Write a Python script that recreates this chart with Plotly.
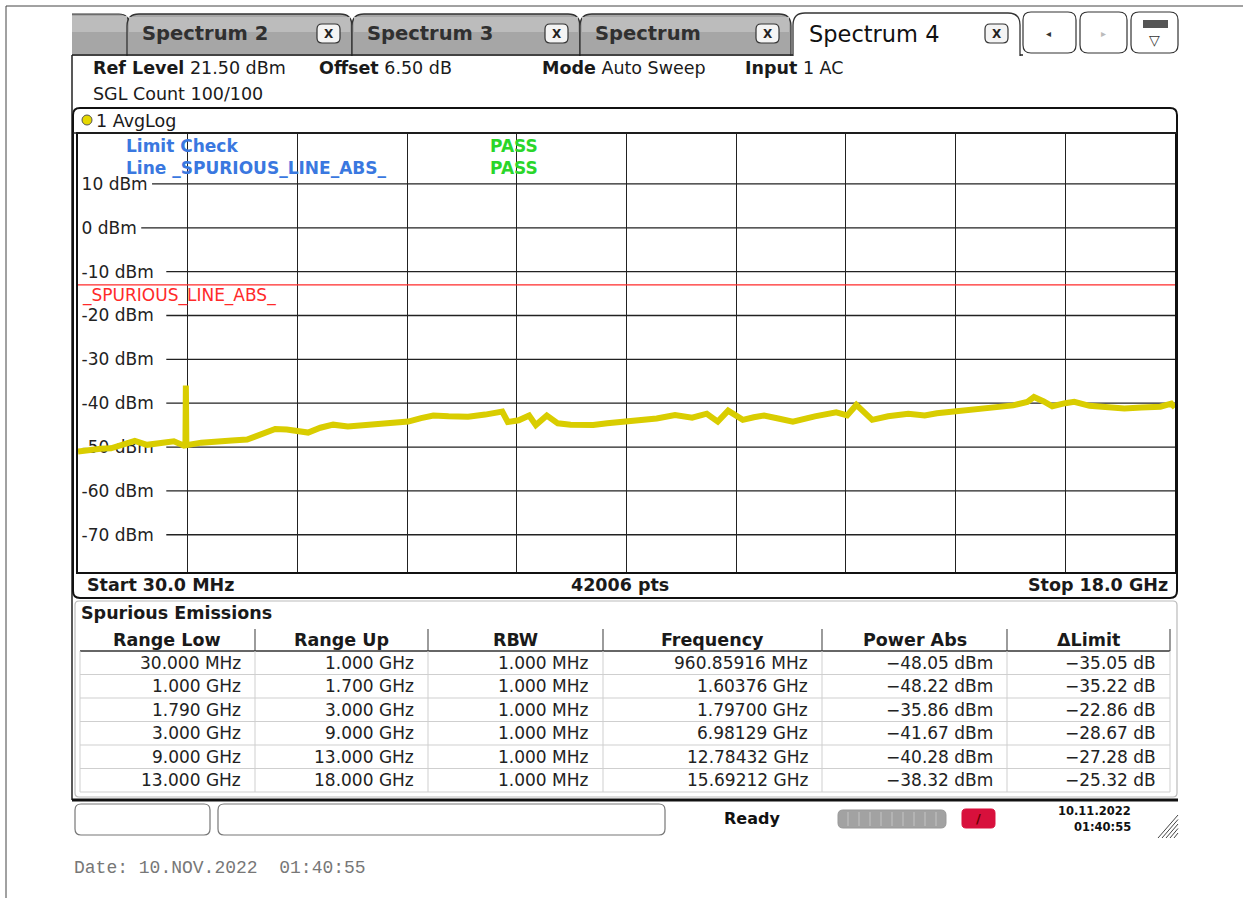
import plotly.graph_objects as go

W, H = 1243, 898
FONT = "DejaVu Sans"

# trace (GHz, dBm)
freq_ghz = [0.03, 0.20, 0.40, 0.57, 0.75, 0.96, 1.16, 1.35, 1.60, 1.75, 1.790, 1.797, 1.805,
            2.05, 2.32, 2.55, 2.80, 3.03, 3.26, 3.45, 3.62, 3.80, 4.00, 4.21, 4.45, 4.67,
            4.95, 5.20, 5.44, 5.65, 5.85, 6.10, 6.42, 6.70, 6.98, 7.07, 7.25, 7.42, 7.53,
            7.71, 7.89, 8.10, 8.47, 8.70, 8.92, 9.20, 9.51, 9.81, 10.09, 10.33, 10.51,
            10.68, 10.92, 11.10, 11.27, 11.50, 11.74, 12.10, 12.45, 12.63, 12.78, 13.04,
            13.30, 13.63, 13.90, 14.10, 14.51, 14.80, 15.10, 15.35, 15.58, 15.69, 15.85,
            15.99, 16.20, 16.35, 16.60, 16.90, 17.17, 17.45, 17.76, 17.94, 18.00]
level_dbm = [-51.0, -50.6, -50.4, -50.3, -49.6, -48.6, -49.5, -49.3, -48.7, -49.6, -49.3, -36.0, -49.6,
             -49.0, -48.6, -48.5, -48.3, -47.0, -45.9, -46.0, -46.4, -46.7, -45.6, -44.9, -45.3, -45.0,
             -44.8, -44.6, -44.2, -43.4, -42.8, -43.0, -43.1, -42.6, -41.9, -44.3, -43.9, -42.8, -45.0,
             -42.8, -44.6, -44.9, -45.0, -44.6, -44.3, -43.9, -43.5, -42.7, -43.3, -42.4, -44.2,
             -41.7, -43.8, -43.2, -42.8, -43.5, -44.2, -43.0, -42.1, -42.8, -40.4, -43.8,
             -43.0, -42.4, -42.8, -42.3, -41.7, -41.4, -40.9, -40.5, -39.7, -38.6, -39.6,
             -40.7, -40.0, -39.7, -40.6, -40.9, -41.2, -41.0, -40.8, -40.1, -41.0]

f_start, f_stop = 0.03, 18.0
ref_level = 21.5
limit_dbm = -13.0
y_ticks = [10, 0, -10, -20, -30, -40, -50, -60, -70]

# spurious emissions table
col_heads = ["Range Low", "Range Up", "RBW", "Frequency", "Power Abs", "ΔLimit"]
range_low = ["30.000 MHz", "1.000 GHz", "1.790 GHz", "3.000 GHz", "9.000 GHz", "13.000 GHz"]
range_up = ["1.000 GHz", "1.700 GHz", "3.000 GHz", "9.000 GHz", "13.000 GHz", "18.000 GHz"]
rbw = ["1.000 MHz"] * 6
frequency = ["960.85916 MHz", "1.60376 GHz", "1.79700 GHz", "6.98129 GHz", "12.78432 GHz", "15.69212 GHz"]
power_abs = ["-48.05 dBm", "-48.22 dBm", "-35.86 dBm", "-41.67 dBm", "-40.28 dBm", "-38.32 dBm"]
delta_limit = ["-35.05 dB", "-35.22 dB", "-22.86 dB", "-28.67 dB", "-27.28 dB", "-25.32 dB"]

tab_names = ["Spectrum 2", "Spectrum 3", "Spectrum", "Spectrum 4"]


def X(p):
    return p / W


def Y(p):
    return 1 - p / H


shapes = []
ann = []


def line(x0, y0, x1, y1, color="#222", width=1, layer="above"):
    shapes.append(dict(type="line", xref="paper", yref="paper", x0=X(x0), y0=Y(y0), x1=X(x1), y1=Y(y1),
                       line=dict(color=color, width=width), layer=layer))


def rect(x0, y0, x1, y1, fill, color="rgba(0,0,0,0)", width=0, layer="above"):
    shapes.append(dict(type="rect", xref="paper", yref="paper", x0=X(x0), y0=Y(y0), x1=X(x1), y1=Y(y1),
                       fillcolor=fill, line=dict(color=color, width=width), layer=layer))


def rbox(x0, y0, x1, y1, r, fill, color, width=1, top_only=False, layer="above"):
    p = lambda x, y: f"{X(x):.5f},{Y(y):.5f}"
    if top_only:
        d = (f"M {p(x0, y1)} L {p(x0, y0 + r)} Q {p(x0, y0)} {p(x0 + r, y0)} L {p(x1 - r, y0)} "
             f"Q {p(x1, y0)} {p(x1, y0 + r)} L {p(x1, y1)}")
    else:
        d = (f"M {p(x0 + r, y0)} L {p(x1 - r, y0)} Q {p(x1, y0)} {p(x1, y0 + r)} L {p(x1, y1 - r)} "
             f"Q {p(x1, y1)} {p(x1 - r, y1)} L {p(x0 + r, y1)} Q {p(x0, y1)} {p(x0, y1 - r)} "
             f"L {p(x0, y0 + r)} Q {p(x0, y0)} {p(x0 + r, y0)} Z")
    shapes.append(dict(type="path", xref="paper", yref="paper", path=d, fillcolor=fill,
                       line=dict(color=color, width=width), layer=layer))


def text(x, y, s, size=17.5, color="#1a1a1a", anchor="left", family=FONT, valign="middle"):
    ann.append(dict(x=X(x), y=Y(y), xref="paper", yref="paper", text=s, showarrow=False,
                    xanchor=anchor, yanchor=valign, font=dict(family=family, size=size, color=color)))


# page frame
line(6, 6, W, 6, "#444", 1)
line(6, 6, 6, H, "#444", 1)

# tab strip
tab_x = [(127, 352), (352, 580), (580, 791), (793, 1020)]
rbox(40, 14, 129, 56, 10, "#a6a6a6", "#333", 1.2, top_only=True)
rect(42, 16, 127, 32, "#bcbcbc")
rect(8, 10, 72, 60, "#ffffff")
for i, (name, (a, b)) in enumerate(zip(tab_names, tab_x)):
    active = i == len(tab_names) - 1
    rbox(a, 13 if active else 14, b, 56, 12, "#ffffff" if active else "#a6a6a6", "#333", 1.3, top_only=True)
    if not active:
        rect(a + 2, 17, b - 2, 32, "#bcbcbc")
        text(a + 13, 34, f"<b>{name}</b>", 19.5, "#303030")
    else:
        text(a + 14, 34, name, 22.5, "#111")
    rbox(b - 35, 24, b - 12, 43, 5, "#f4f4f4", "#333", 1.2)
    text(b - 23.5, 34, "<b>X</b>", 12, "#222", anchor="center")
for a, b in [(1023, 1076), (1080, 1127), (1131, 1178)]:
    rbox(a, 12, b, 53, 8, "#ffffff", "#333", 1.2)
text(1048, 34, "◂", 10, "#333", anchor="center")
text(1103, 34, "▸", 10, "#bbb", anchor="center")
rect(1143, 20, 1168, 28, "#555")
text(1154, 40, "▽", 14, "#333", anchor="center")
line(72, 55, 793, 55, "#222", 1.5)
line(1020, 55, 1023, 55, "#222", 1.5)
line(72, 55, 72, 800, "#222", 1.5)

# header
text(91, 68, "<b>Ref Level</b> 21.50 dBm")
text(317, 68, "<b>Offset</b> 6.50 dB")
text(540, 68, "<b>Mode</b> Auto Sweep")
text(743, 68, "<b>Input</b> 1 AC")
text(91, 94, "SGL Count 100/100")

# diagram frame
rbox(73, 108, 1177, 598, 7, "rgba(0,0,0,0)", "#111", 2)
line(73, 133, 1177, 133, "#222", 1.5)
shapes.append(dict(type="circle", xref="paper", yref="paper", x0=X(82), y0=Y(125), x1=X(92), y1=Y(115),
                   fillcolor="#e6d800", line=dict(color="#555", width=1)))
text(94, 121, "1 AvgLog")
text(85, 585, "<b>Start 30.0 MHz</b>")
text(620, 585, "<b>42006 pts</b>", anchor="center")
text(1170, 585, "<b>Stop 18.0 GHz</b>", anchor="right")

fig = go.Figure()

# horizontal grid lines start just after their labels
EM = {"-": 0.838, " ": 0.318, "d": 0.635, "B": 0.686, "m": 0.974}
tick_text = [f"{v} dBm" for v in y_ticks]
for v, t in zip(y_ticks, tick_text):
    x_px = 83 + sum(EM.get(ch, 0.636) for ch in t) * 17 + 3
    shapes.append(dict(type="line", xref="x", yref="y", x0=f_start + (x_px - 78) / 1097 * (f_stop - f_start),
                       x1=f_stop, y0=v, y1=v, line=dict(color="#222", width=1.3), layer="below"))

fig.add_trace(go.Scatter(x=[f_start, f_stop], y=[limit_dbm, limit_dbm], mode="lines",
                         line=dict(color="#ff2a2a", width=1.2), hoverinfo="skip"))
fig.add_trace(go.Scatter(x=freq_ghz, y=level_dbm, mode="lines",
                         line=dict(color="#d9cd00", width=6), hoverinfo="skip"))

text(124, 146, "<b>Limit Check</b>", 17, "#3a78e0")
text(124, 168, "<b>Line _SPURIOUS_LINE_ABS_</b>", 17, "#3a78e0")
text(488, 146, "<b>PASS</b>", 17, "#2ad62a")
text(488, 168, "<b>PASS</b>", 17, "#2ad62a")
text(80, 296, "_SPURIOUS_LINE_ABS_", 17, "#ff2a2a")

# table section
rbox(75, 601, 1177, 797, 4, "rgba(0,0,0,0)", "#bbbbbb", 1.2)
text(79, 613, "<b>Spurious Emissions</b>")
cols = [80, 255, 428, 603, 822, 1007, 1170]
head_top, head_bot, row_h = 629, 651, 23.5
for i, h in enumerate(col_heads):
    text((cols[i] + cols[i + 1]) / 2, 640, f"<b>{h}</b>", anchor="center")
    if i > 0:
        line(cols[i], head_top, cols[i], head_bot, "#666", 1.3)
line(1170, head_top, 1170, head_bot, "#666", 1.3)
line(80, head_bot, 1170, head_bot, "#333", 1.5)
columns = [range_low, range_up, rbw, frequency, power_abs, delta_limit]
n_rows = len(range_low)
for r in range(n_rows):
    yc = head_bot + row_h * (r + 0.5)
    if r > 0:
        line(80, head_bot + row_h * r, 1170, head_bot + row_h * r, "#cfcfcf", 1)
    for c, col in enumerate(columns):
        text(cols[c + 1] - 12, yc, col[r].replace("-", "−"), 17, "#222", anchor="right")
for c in cols:
    line(c, head_bot, c, head_bot + row_h * n_rows, "#cfcfcf", 1)
line(80, head_bot + row_h * n_rows, 1170, head_bot + row_h * n_rows, "#cfcfcf", 1)

# status bar
line(72, 800, 1178, 800, "#111", 3)
rbox(75, 804, 210, 835, 6, "#ffffff", "#777", 1.2)
rbox(218, 804, 665, 835, 6, "#ffffff", "#777", 1.2)
text(752, 818, "<b>Ready</b>", 16, "#111", anchor="center")
rbox(838, 810, 946, 828, 5, "#a2a2a2", "#999", 1)
for k in range(9):
    line(848 + k * 11, 812, 848 + k * 11, 826, "#c4c4c4", 1)
rbox(962, 809, 995, 828, 4, "#d8103c", "#d8103c", 1)
text(978, 818, "<b>/</b>", 13, "#600", anchor="center")
text(1133, 811, "<b>10.11.2022</b>", 11.5, "#111", anchor="right")
text(1133, 827, "<b>01:40:55</b>", 11.5, "#111", anchor="right")
for k in range(5):
    line(1158 + k * 4, 838, 1178, 815 + k * 4.5, "#444", 1)

text(72, 868, "Date: 10.NOV.2022  01:40:55", 18, "#777", family="Liberation Mono")

fig.update_layout(
    width=W, height=H, autosize=False,
    margin=dict(l=0, r=0, t=0, b=0),
    paper_bgcolor="#ffffff", plot_bgcolor="#ffffff",
    showlegend=False,
    shapes=shapes, annotations=ann,
    xaxis=dict(domain=[X(78), X(1175)], range=[f_start, f_stop], tick0=f_start,
               dtick=(f_stop - f_start) / 10, showgrid=True, gridcolor="#222", gridwidth=1.3,
               showticklabels=False, ticks="", zeroline=False, showline=True, mirror=True,
               linecolor="#111", linewidth=2, fixedrange=True),
    yaxis=dict(domain=[Y(572), Y(133.5)], range=[ref_level - 100, ref_level],
               tickvals=y_ticks, ticktext=tick_text, ticklabelposition="inside", ticks="",
               ticklabelstandoff=4, tickfont=dict(family=FONT, size=17, color="#222"),
               showgrid=False, zeroline=False, showline=True, mirror=True,
               linecolor="#111", linewidth=2, layer="below traces", fixedrange=True),
)

fig.write_html("out.html", config={"displayModeBar": False},
               post_script="document.body.style.margin='0';document.body.style.overflow='hidden';")
